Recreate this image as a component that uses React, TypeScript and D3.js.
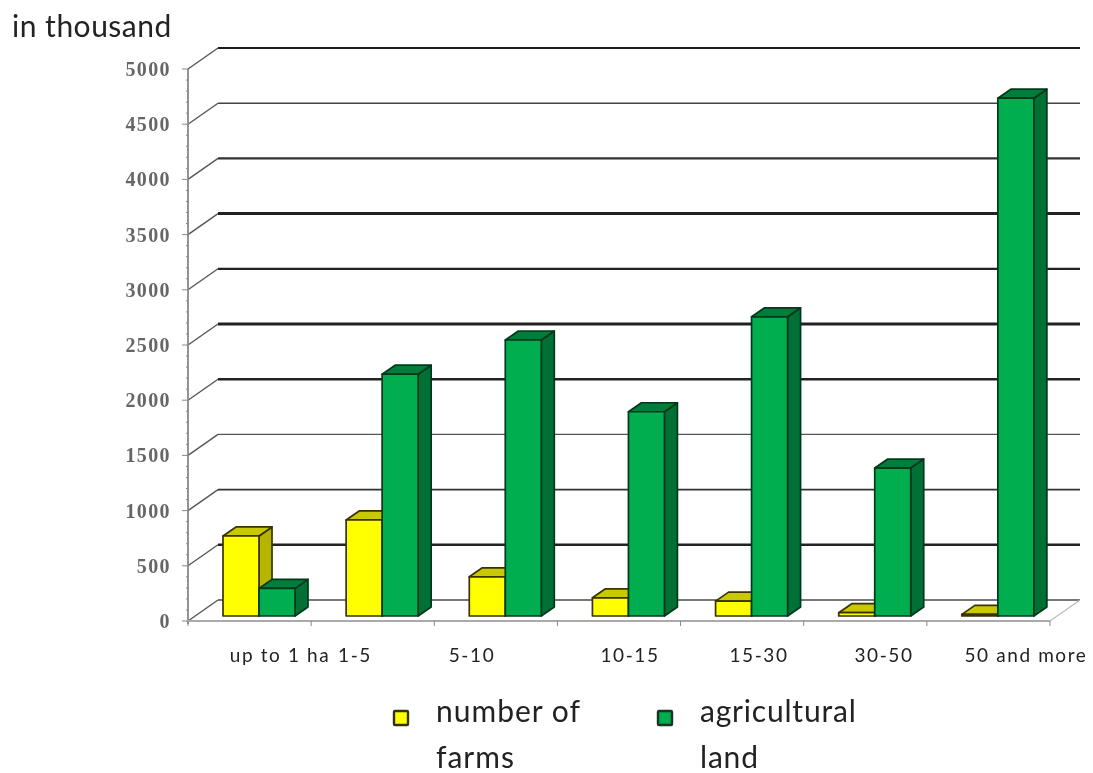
import React from "react";
import * as d3 from "d3";

const categories = ["up to 1 ha", "1-5", "5-10", "10-15", "15-30", "30-50", "50 and more"];
const farms = [725, 870, 355, 165, 135, 30, 15];
const land = [250, 2190, 2500, 1850, 2710, 1340, 4690];
const yTicks = [0, 500, 1000, 1500, 2000, 2500, 3000, 3500, 4000, 4500, 5000];
const gridWidths = [1.8, 2.6, 1.7, 1.4, 2.4, 3, 2.2, 3, 2.2, 1.6, 2];
const gridColors = ["#777", "#222", "#333", "#555", "#222", "#222", "#222", "#222", "#333", "#444", "#1c1c1c"];
const labelX = [280, 355, 472, 630, 759, 884, 1026];

const W = 1093, H = 773;
const wallDX = 30, wallDY = -21;
const barDX = 13, barDY = -9;
const barBaseDY = -5;

const x = d3.scaleBand<number>().domain(d3.range(categories.length)).range([188, 1050]);
const y = d3.scaleLinear().domain([0, 5000]).range([621, 69]);
const minor = d3.range(0, 5001, 100);

function Bar({ x0, w, v, front, top, side, stroke }: any) {
  const yb = y(0) + barBaseDY;
  const yt = y(v) + barBaseDY;
  const x1 = x0 + w;
  const p = (a: number[][]) => a.map(q => q.join(",")).join(" ");
  return (
    <g stroke={stroke} strokeWidth={1.7} strokeLinejoin="round">
      <polygon points={p([[x1, yb], [x1 + barDX, yb + barDY], [x1 + barDX, yt + barDY], [x1, yt]])} fill={side} />
      <polygon points={p([[x0, yt], [x0 + barDX, yt + barDY], [x1 + barDX, yt + barDY], [x1, yt]])} fill={top} />
      <rect x={x0} y={yt} width={w} height={yb - yt} fill={front} />
    </g>
  );
}

export default function App() {
  const bw = 36;
  const off = 35;
  return (
    <svg width={W} height={H} style={{ position: "absolute", left: 0, top: 0, background: "#fff" }}>
      <defs>
        <filter id="soft" x="-2%" y="-2%" width="104%" height="104%">
          <feGaussianBlur stdDeviation="0.55" />
        </filter>
      </defs>
      <g filter="url(#soft)">
        <text x={12} y={37} fontFamily="Lato" fontSize={30} letterSpacing={0.5} fill="#222">in thousand</text>

        {yTicks.map((t, i) => (
          <g key={t}>
            <line x1={188} x2={188 + wallDX} y1={y(t)} y2={y(t) + wallDY} stroke="#555" strokeWidth={1.4} />
            <line x1={188 + wallDX} x2={1050 + wallDX} y1={y(t) + wallDY} y2={y(t) + wallDY}
              stroke={gridColors[i]} strokeWidth={gridWidths[i]} />
            <text x={171} y={y(t) + 7} textAnchor="end" fontFamily="Liberation Serif" fontWeight="bold"
              fontSize={20} letterSpacing={1.4} fill="#666">{t}</text>
          </g>
        ))}

        <line x1={188} x2={188} y1={y(5000)} y2={y(0) + 3} stroke="#888" strokeWidth={1.8} />
        {minor.map(t => (
          <line key={t} x1={t % 500 === 0 ? 182 : 186} x2={188} y1={y(t)} y2={y(t)} stroke="#888" strokeWidth={1} />
        ))}
        <line x1={186} x2={1050} y1={y(0)} y2={y(0)} stroke="#aaa" strokeWidth={2} />
        <line x1={1050} x2={1050 + wallDX} y1={y(0)} y2={y(0) + wallDY} stroke="#bbb" strokeWidth={1.2} />
        {d3.range(categories.length + 1).map(i => {
          const px = 188 + i * x.step();
          return <line key={i} x1={px} x2={px} y1={y(0)} y2={y(0) + 5} stroke="#888" strokeWidth={1} />;
        })}

        {categories.map((c, i) => {
          const x0 = (x(i) as number) + off;
          return (
            <g key={c}>
              <Bar x0={x0} w={bw} v={farms[i]} front="#ffff00" top="#c9c900" side="#b5b500" stroke="#3a3300" />
              <Bar x0={x0 + bw} w={bw} v={land[i]} front="#00ae4f" top="#007d3a" side="#006f35" stroke="#06391c" />
            </g>
          );
        })}

        {categories.map((c, i) => (
          <text key={c} x={labelX[i]} y={662} textAnchor="middle" fontFamily="Lato" fontSize={19} letterSpacing={1.6} fill="#222">{c}</text>
        ))}

        <rect x={394} y={711} width={14} height={14} fill="#ffff00" stroke="#33330a" strokeWidth={2.4} rx={1} />
        <text x={436} y={722} fontFamily="Lato" fontSize={30} letterSpacing={1} fill="#222">number of</text>
        <text x={436} y={768} fontFamily="Lato" fontSize={30} letterSpacing={1} fill="#222">farms</text>
        <rect x={658} y={711} width={14} height={14} fill="#00ae4f" stroke="#1a3322" strokeWidth={2.4} rx={1} />
        <text x={700} y={722} fontFamily="Lato" fontSize={30} letterSpacing={0.8} fill="#222">agricultural</text>
        <text x={700} y={768} fontFamily="Lato" fontSize={30} letterSpacing={0.8} fill="#222">land</text>
      </g>
    </svg>
  );
}
